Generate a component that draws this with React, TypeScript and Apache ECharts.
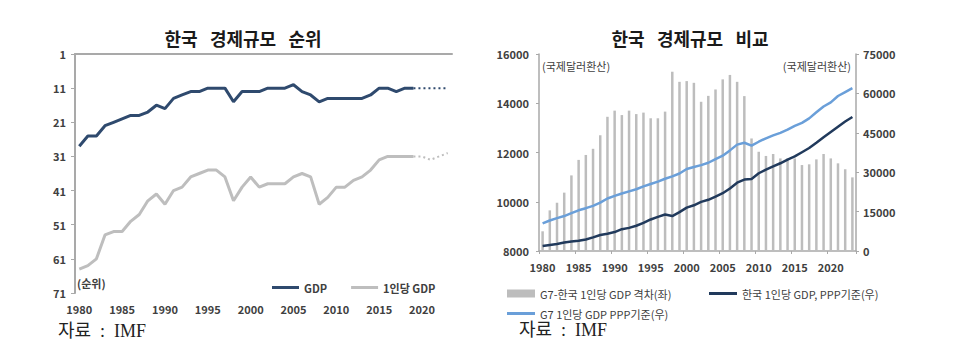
import React, { useEffect, useRef } from "react";
import * as echarts from "echarts";

// ---- Data ----
const years: string[] = Array.from({ length: 44 }, (_, i) => String(1980 + i)); // 1980..2023
const forecastFrom = "2019"; // solid line up to 2019, dotted afterwards

// Left chart: ranks (1 = largest)
const gdpRank: number[] = [
  28, 25, 25, 22, 21, 20, 19, 19, 18, 16,
  17, 14, 13, 12, 12, 11, 11, 11, 15, 12,
  12, 12, 11, 11, 11, 10, 12, 13, 15, 14,
  14, 14, 14, 14, 13, 11, 11, 12, 11, 11,
  11, 11, 11, 11,
];
const perCapitaRank: number[] = [
  64, 63, 61, 54, 53, 53, 50, 48, 44, 42,
  45, 41, 40, 37, 36, 35, 35, 37, 44, 40,
  37, 40, 39, 39, 39, 37, 36, 37, 45, 43,
  40, 40, 38, 37, 35, 32, 31, 31, 31, 31,
  31, 32, 31, 30,
];
const rankTicks = [1, 11, 21, 31, 41, 51, 61, 71];

// Right chart
const g7GapLeft: number[] = [
  8800, 9650, 9960, 10370, 11070, 11700, 11900, 12150, 12700, 13450,
  13700, 13520, 13700, 13560, 13620, 13390, 13390, 13660, 15280, 14870,
  14900, 14830, 14060, 14300, 14560, 14970, 15150, 14870, 14290, 12570,
  12030, 11860, 11940, 11760, 11760, 11760, 11490, 11520, 11720, 11940,
  11760, 11560, 11320, 10990,
];
const koreaPppRight: number[] = [
  1900, 2300, 2700, 3200, 3600, 3900, 4400, 5200, 6100, 6600,
  7200, 8300, 8800, 9600, 10700, 12000, 13000, 13900, 13300, 14800,
  16500, 17400, 18700, 19500, 20700, 22000, 23800, 26000, 27200, 27400,
  29600, 31000, 32200, 33400, 34800, 36000, 37600, 39200, 41200, 43300,
  45300, 47300, 49300, 51000,
];
const g7PppRight: number[] = [
  10500, 11600, 12500, 13300, 14400, 15500, 16300, 17200, 18400, 20000,
  21000, 21900, 22700, 23500, 24600, 25500, 26400, 27500, 28400, 29500,
  31200, 32000, 32700, 33600, 35000, 36300, 38300, 40500, 41200, 40100,
  41600, 42900, 44000, 45000, 46200, 47600, 48800, 50500, 52800, 55000,
  56600, 59000, 60500, 62000,
];

const NAVY = "#2F4A6E";
const GRAY_LINE = "#BEBEBE";
const DARK_NAVY = "#213A5C";
const LIGHT_BLUE = "#6A9FD9";
const BAR_GRAY = "#BDBDBD";
const AXIS_GRAY = "#A9A9A9";
const TEXT = "#404040";
const FONT = "'Noto Sans CJK KR', 'Noto Sans', sans-serif";
const SERIF = "'Liberation Serif', 'DejaVu Serif', 'Noto Sans CJK KR', serif";

export default function App() {
  const ref = useRef<HTMLDivElement>(null);

  useEffect(() => {
    if (!ref.current) return;
    const chart = echarts.init(ref.current, undefined, { renderer: "svg" });
    const fIdx = years.indexOf(forecastFrom);
    const toAxis = (v: number) => v - 1; // rank axis shifted so ticks fall on 1,11,21,...
    const solid = (arr: number[]) => arr.map((v, i) => (i <= fIdx ? toAxis(v) : null));
    const dotted = (arr: number[]) => arr.map((v, i) => (i >= fIdx ? toAxis(v) : null));

    const labelStyle = { color: TEXT, fontSize: 11, fontWeight: "bold" as const, fontFamily: FONT };
    const plain = (v: number) => String(v);
    const lineIcon = "rect";
    const legendText = { color: TEXT, fontSize: 11, fontFamily: FONT };

    const option: any = {
      animation: false,
      textStyle: { fontFamily: FONT },
      grid: [
        { left: 75, top: 54, width: 377, height: 239 },
        { left: 539, top: 54, width: 317, height: 197 },
      ],
      xAxis: [
        {
          gridIndex: 0, type: "category", data: years, position: "top", boundaryGap: true,
          axisLine: { show: true, lineStyle: { color: AXIS_GRAY, width: 2 } },
          axisTick: { show: false }, axisLabel: { show: false }, splitLine: { show: false },
        },
        {
          gridIndex: 0, type: "category", data: years, position: "bottom", boundaryGap: true,
          axisLine: { show: false }, axisTick: { show: false },
          axisLabel: { ...labelStyle, interval: 4, margin: 10 }, splitLine: { show: false },
        },
        {
          gridIndex: 1, type: "category", data: years, position: "bottom", boundaryGap: true,
          axisLine: { show: true, lineStyle: { color: AXIS_GRAY, width: 1.5 } },
          axisTick: { show: true, interval: 4, length: 3, lineStyle: { color: AXIS_GRAY } },
          axisLabel: { ...labelStyle, interval: 4, margin: 10 }, splitLine: { show: false },
        },
      ],
      yAxis: [
        {
          gridIndex: 0, type: "value", inverse: true,
          min: toAxis(rankTicks[0]), max: toAxis(rankTicks[rankTicks.length - 1]), interval: 10,
          axisLine: { show: true, lineStyle: { color: AXIS_GRAY, width: 2 } },
          axisTick: { show: true, length: 4, lineStyle: { color: AXIS_GRAY } },
          axisLabel: { ...labelStyle, margin: 9, formatter: (v: number) => String(v + 1) },
          splitLine: { show: false },
        },
        {
          gridIndex: 1, type: "value", position: "left", min: 8000, max: 16000, interval: 2000,
          axisLine: { show: true, lineStyle: { color: AXIS_GRAY, width: 1.5 } },
          axisTick: { show: true, length: 3, lineStyle: { color: AXIS_GRAY } },
          axisLabel: { ...labelStyle, margin: 10, formatter: plain }, splitLine: { show: false },
        },
        {
          gridIndex: 1, type: "value", position: "right", min: 0, max: 75000, interval: 15000,
          axisLine: { show: true, lineStyle: { color: AXIS_GRAY, width: 1.5 } },
          axisTick: { show: true, length: 3, lineStyle: { color: AXIS_GRAY } },
          axisLabel: { ...labelStyle, margin: 7, formatter: plain }, splitLine: { show: false },
        },
      ],
      legend: [
        {
          data: ["GDP", "1인당 GDP"], left: 267, top: 277, icon: lineIcon, itemWidth: 27, itemHeight: 3,
          itemGap: 24, textStyle: { ...legendText, fontWeight: "bold" },
        },
        {
          data: ["G7-한국 1인당 GDP 격차(좌)"], left: 502, top: 283, icon: "rect",
          itemWidth: 28, itemHeight: 8, textStyle: legendText,
        },
        {
          data: ["한국 1인당 GDP, PPP기준(우)"], left: 704, top: 283, icon: lineIcon,
          itemWidth: 28, itemHeight: 3, textStyle: legendText,
        },
        {
          data: ["G7 1인당 GDP PPP기준(우)"], left: 502, top: 303, icon: lineIcon,
          itemWidth: 28, itemHeight: 3, textStyle: legendText,
        },
      ],
      series: [
        {
          name: "GDP", type: "line", xAxisIndex: 0, yAxisIndex: 0, data: solid(gdpRank),
          symbol: "none", lineStyle: { color: NAVY, width: 3 }, itemStyle: { color: NAVY },
        },
        {
          name: "GDP 전망", type: "line", xAxisIndex: 0, yAxisIndex: 0, data: dotted(gdpRank),
          symbol: "none", lineStyle: { color: NAVY, width: 2, type: [2, 3] }, itemStyle: { color: NAVY },
        },
        {
          name: "1인당 GDP", type: "line", xAxisIndex: 0, yAxisIndex: 0, data: solid(perCapitaRank),
          symbol: "none", lineStyle: { color: GRAY_LINE, width: 3 }, itemStyle: { color: GRAY_LINE },
        },
        {
          name: "1인당 GDP 전망", type: "line", xAxisIndex: 0, yAxisIndex: 0, data: dotted(perCapitaRank),
          symbol: "none", lineStyle: { color: GRAY_LINE, width: 2, type: [2, 3] }, itemStyle: { color: GRAY_LINE },
        },
        {
          name: "G7-한국 1인당 GDP 격차(좌)", type: "bar", xAxisIndex: 2, yAxisIndex: 1,
          data: g7GapLeft, barWidth: 2.5, itemStyle: { color: BAR_GRAY },
        },
        {
          name: "한국 1인당 GDP, PPP기준(우)", type: "line", xAxisIndex: 2, yAxisIndex: 2,
          data: koreaPppRight, symbol: "none", lineStyle: { color: DARK_NAVY, width: 2.5 },
          itemStyle: { color: DARK_NAVY },
        },
        {
          name: "G7 1인당 GDP PPP기준(우)", type: "line", xAxisIndex: 2, yAxisIndex: 2,
          data: g7PppRight, symbol: "none", lineStyle: { color: LIGHT_BLUE, width: 2.5 },
          itemStyle: { color: LIGHT_BLUE },
        },
      ],
      graphic: [
        {
          type: "text", x: 243, y: 38,
          style: { text: "한국   경제규모   순위", fontSize: 18, fontWeight: "bold", fill: "#1a1a1a", fontFamily: FONT, align: "center", verticalAlign: "middle" },
        },
        {
          type: "text", x: 690, y: 38,
          style: { text: "한국   경제규모   비교", fontSize: 18, fontWeight: "bold", fill: "#1a1a1a", fontFamily: FONT, align: "center", verticalAlign: "middle" },
        },
        {
          type: "text", x: 77, y: 283,
          style: { text: "(순위)", fontSize: 11, fontWeight: "bold", fill: TEXT, fontFamily: FONT, align: "left", verticalAlign: "middle" },
        },
        {
          type: "text", x: 542, y: 66,
          style: { text: "(국제달러환산)", fontSize: 11, fill: TEXT, fontFamily: FONT, align: "left", verticalAlign: "middle" },
        },
        {
          type: "text", x: 851, y: 66,
          style: { text: "(국제달러환산)", fontSize: 11, fill: TEXT, fontFamily: FONT, align: "right", verticalAlign: "middle" },
        },
        {
          type: "text", x: 58, y: 331,
          style: { text: "자료  :  IMF", fontSize: 18, fill: "#222", fontFamily: SERIF, align: "left", verticalAlign: "middle" },
        },
        {
          type: "text", x: 519, y: 330,
          style: { text: "자료  :  IMF", fontSize: 18, fill: "#222", fontFamily: SERIF, align: "left", verticalAlign: "middle" },
        },
      ],
    };

    chart.setOption(option);
    return () => chart.dispose();
  }, []);

  return (
    <div
      ref={ref}
      style={{ position: "absolute", left: 0, top: 0, width: 957, height: 354, background: "#fff" }}
    />
  );
}
